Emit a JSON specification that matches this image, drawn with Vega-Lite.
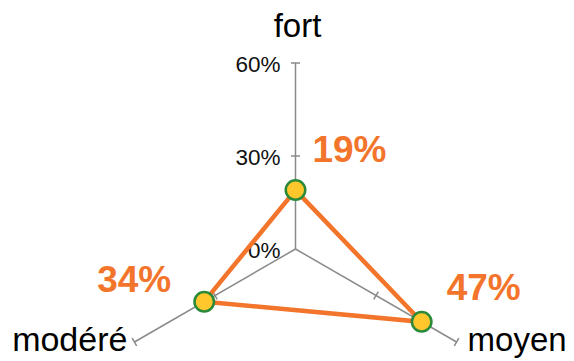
{
  "$schema": "https://vega.github.io/schema/vega-lite/v6.json",
  "width": 574,
  "height": 361,
  "padding": 0,
  "autosize": {"type": "none"},
  "background": "white",
  "config": {"view": {"stroke": null}, "font": "Liberation Sans"},
  "datasets": {
    "scores": [
      {"cat": "fort", "i": 0, "value": 19},
      {"cat": "moyen", "i": 1, "value": 47},
      {"cat": "modéré", "i": 2, "value": 34}
    ],
    "levels": [
      {"i": 0, "level": 30}, {"i": 0, "level": 60},
      {"i": 1, "level": 30}, {"i": 1, "level": 60},
      {"i": 2, "level": 30}, {"i": 2, "level": 60}
    ],
    "scaleLabels": [
      {"level": 0, "label": "0%"},
      {"level": 30, "label": "30%"},
      {"level": 60, "label": "60%"}
    ]
  },
  "encoding": {
    "x": {"type": "quantitative", "scale": {"domain": [-95.32, 89.84], "nice": false, "zero": false}, "axis": null},
    "y": {"type": "quantitative", "scale": {"domain": [-36.13, 80.32], "nice": false, "zero": false}, "axis": null}
  },
  "layer": [
    {
      "data": {"name": "scores"},
      "transform": [
        {"calculate": "PI / 2 - datum.i * 2 * PI / 3", "as": "a"},
        {"calculate": "60 * cos(datum.a)", "as": "ex"},
        {"calculate": "60 * sin(datum.a)", "as": "ey"},
        {"calculate": "0", "as": "ox"}
      ],
      "mark": {"type": "rule", "color": "#8a8a8a", "strokeWidth": 1.5},
      "encoding": {
        "x": {"field": "ox"},
        "y": {"field": "ox"},
        "x2": {"field": "ex"},
        "y2": {"field": "ey"}
      }
    },
    {
      "data": {"name": "levels"},
      "transform": [
        {"calculate": "PI / 2 - datum.i * 2 * PI / 3", "as": "a"},
        {"calculate": "datum.level * cos(datum.a) + 1.45 * sin(datum.a)", "as": "x1"},
        {"calculate": "datum.level * sin(datum.a) - 1.45 * cos(datum.a)", "as": "y1"},
        {"calculate": "datum.level * cos(datum.a) - 1.45 * sin(datum.a)", "as": "x2"},
        {"calculate": "datum.level * sin(datum.a) + 1.45 * cos(datum.a)", "as": "y2"}
      ],
      "mark": {"type": "rule", "color": "#8a8a8a", "strokeWidth": 1.5},
      "encoding": {
        "x": {"field": "x1"},
        "y": {"field": "y1"},
        "x2": {"field": "x2"},
        "y2": {"field": "y2"}
      }
    },
    {
      "data": {"name": "scaleLabels"},
      "transform": [{"calculate": "0", "as": "ox"}],
      "mark": {"type": "text", "align": "right", "baseline": "middle", "dx": -15, "dy": 2.5, "fontSize": 22.5, "color": "#111111"},
      "encoding": {
        "x": {"field": "ox"},
        "y": {"field": "level"},
        "text": {"field": "label"}
      }
    },
    {
      "data": {"name": "scores"},
      "transform": [
        {"calculate": "PI / 2 - datum.i * 2 * PI / 3", "as": "a"},
        {"calculate": "datum.value * cos(datum.a)", "as": "px"},
        {"calculate": "datum.value * sin(datum.a)", "as": "py"},
        {"calculate": "datum.value + '%'", "as": "label"}
      ],
      "layer": [
        {
          "mark": {"type": "line", "interpolate": "linear-closed", "color": "#f3752b", "strokeWidth": 4.5},
          "encoding": {
            "x": {"field": "px"},
            "y": {"field": "py"},
            "order": {"field": "i"}
          }
        },
        {
          "mark": {"type": "point", "shape": "circle", "filled": true, "fill": "#ffc72c", "stroke": "#2a8a3a", "strokeWidth": 2.5, "size": 380, "opacity": 1},
          "encoding": {
            "x": {"field": "px"},
            "y": {"field": "py"}
          }
        },
        {
          "transform": [{"filter": "datum.cat === 'fort'"}],
          "mark": {"type": "text", "align": "center", "baseline": "middle", "dx": 54, "dy": -39, "fontSize": 37, "fontWeight": "bold", "color": "#f3752b"},
          "encoding": {
            "x": {"field": "px"},
            "y": {"field": "py"},
            "text": {"field": "label"}
          }
        },
        {
          "transform": [{"filter": "datum.cat === 'moyen'"}],
          "mark": {"type": "text", "align": "center", "baseline": "middle", "dx": 62, "dy": -33, "fontSize": 37, "fontWeight": "bold", "color": "#f3752b"},
          "encoding": {
            "x": {"field": "px"},
            "y": {"field": "py"},
            "text": {"field": "label"}
          }
        },
        {
          "transform": [{"filter": "datum.cat === 'modéré'"}],
          "mark": {"type": "text", "align": "center", "baseline": "middle", "dx": -70, "dy": -21, "fontSize": 37, "fontWeight": "bold", "color": "#f3752b"},
          "encoding": {
            "x": {"field": "px"},
            "y": {"field": "py"},
            "text": {"field": "label"}
          }
        }
      ]
    },
    {
      "data": {"name": "scores"},
      "transform": [
        {"calculate": "PI / 2 - datum.i * 2 * PI / 3", "as": "a"},
        {"calculate": "60 * cos(datum.a)", "as": "ex"},
        {"calculate": "60 * sin(datum.a)", "as": "ey"}
      ],
      "layer": [
        {
          "transform": [{"filter": "datum.cat === 'fort'"}],
          "mark": {"type": "text", "align": "center", "baseline": "alphabetic", "dx": 2, "dy": -26, "fontSize": 33, "color": "#000000"},
          "encoding": {"x": {"field": "ex"}, "y": {"field": "ey"}, "text": {"field": "cat"}}
        },
        {
          "transform": [{"filter": "datum.cat === 'moyen'"}],
          "mark": {"type": "text", "align": "left", "baseline": "middle", "dx": 11, "dy": -1, "fontSize": 33, "color": "#000000"},
          "encoding": {"x": {"field": "ex"}, "y": {"field": "ey"}, "text": {"field": "cat"}}
        },
        {
          "transform": [{"filter": "datum.cat === 'modéré'"}],
          "mark": {"type": "text", "align": "right", "baseline": "middle", "dx": -7, "dy": -1, "fontSize": 34, "color": "#000000"},
          "encoding": {"x": {"field": "ex"}, "y": {"field": "ey"}, "text": {"field": "cat"}}
        }
      ]
    }
  ]
}
